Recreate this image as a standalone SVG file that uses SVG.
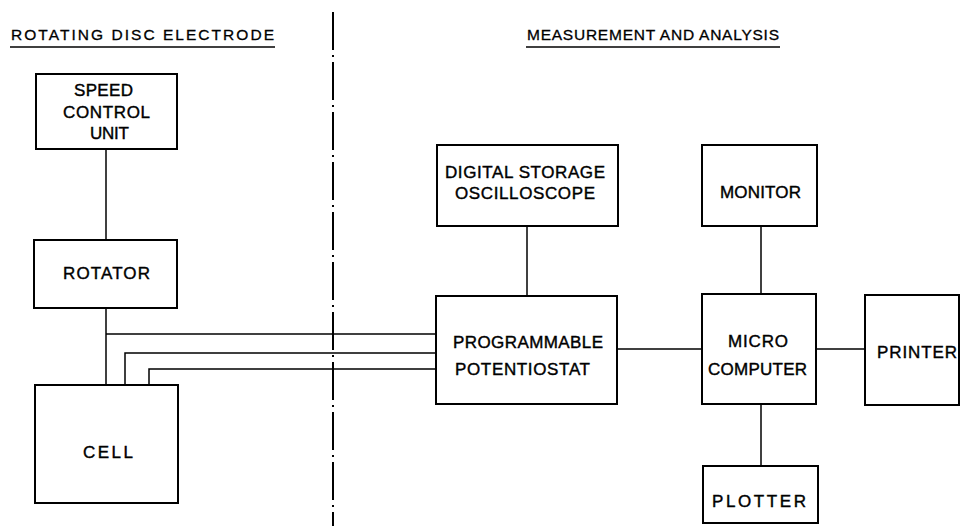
<svg xmlns="http://www.w3.org/2000/svg" width="961" height="526" viewBox="0 0 961 526">
<style>
.box{fill:none;stroke:#000;stroke-width:2}
.ln{fill:none;stroke:#000;stroke-width:1.5}
.t{font-family:"Liberation Sans",Arial,sans-serif;font-size:17px;fill:#000;stroke:#000;stroke-width:0.4;text-anchor:start}
.h{font-family:"Liberation Sans",Arial,sans-serif;font-size:15.5px;fill:#000;stroke:#000;stroke-width:0.3;text-anchor:start}
.div{fill:none;stroke:#000;stroke-width:2;stroke-dasharray:38 5 2 5}
</style>
<rect width="961" height="526" fill="#fff"/>
<g id="titles">
<text class="h" x="11" y="40" textLength="263" lengthAdjust="spacing">ROTATING DISC ELECTRODE</text>
<line class="ln" x1="10" y1="47" x2="275" y2="47"/>
<text class="h" x="527" y="40" textLength="252" lengthAdjust="spacing">MEASUREMENT AND ANALYSIS</text>
<line class="ln" x1="526" y1="47" x2="780" y2="47"/>
</g>
<g id="divider">
<line class="div" x1="333" y1="12" x2="333" y2="526"/>
</g>
<g id="connectors">
<line class="ln" x1="106" y1="149" x2="106" y2="240"/>
<line class="ln" x1="106" y1="308" x2="106" y2="385"/>
<line class="ln" x1="106" y1="334" x2="436" y2="334"/>
<polyline class="ln" points="125,385 125,353 436,353"/>
<polyline class="ln" points="149,385 149,369 436,369"/>
<line class="ln" x1="527" y1="226" x2="527" y2="296"/>
<line class="ln" x1="617" y1="349" x2="702" y2="349"/>
<line class="ln" x1="816" y1="349" x2="865" y2="349"/>
<line class="ln" x1="761" y1="226" x2="761" y2="294"/>
<line class="ln" x1="761" y1="404" x2="761" y2="466"/>
</g>
<g id="speed">
<rect class="box" x="36" y="74" width="141" height="75"/>
<text class="t" x="74" y="96" textLength="59" lengthAdjust="spacing">SPEED</text>
<text class="t" x="63" y="118" textLength="87" lengthAdjust="spacing">CONTROL</text>
<text class="t" x="90" y="139" textLength="39" lengthAdjust="spacing">UNIT</text>
</g>
<g id="rotator">
<rect class="box" x="34" y="240" width="143" height="68"/>
<text class="t" x="63" y="279" textLength="87" lengthAdjust="spacing">ROTATOR</text>
</g>
<g id="cell">
<rect class="box" x="35" y="385" width="143" height="118"/>
<text class="t" x="83" y="458" textLength="50" lengthAdjust="spacing">CELL</text>
</g>
<g id="oscilloscope">
<rect class="box" x="437" y="145" width="181" height="81"/>
<text class="t" x="445" y="178" textLength="160" lengthAdjust="spacing">DIGITAL STORAGE</text>
<text class="t" x="455" y="199" textLength="140" lengthAdjust="spacing">OSCILLOSCOPE</text>
</g>
<g id="potentiostat">
<rect class="box" x="436" y="296" width="181" height="108"/>
<text class="t" x="453" y="348" textLength="150" lengthAdjust="spacing">PROGRAMMABLE</text>
<text class="t" x="455" y="375" textLength="135" lengthAdjust="spacing">POTENTIOSTAT</text>
</g>
<g id="monitor">
<rect class="box" x="702" y="145" width="115" height="81"/>
<text class="t" x="720" y="198" textLength="81" lengthAdjust="spacing">MONITOR</text>
</g>
<g id="microcomputer">
<rect class="box" x="702" y="294" width="114" height="110"/>
<text class="t" x="728" y="347" textLength="60" lengthAdjust="spacing">MICRO</text>
<text class="t" x="708" y="375" textLength="99" lengthAdjust="spacing">COMPUTER</text>
</g>
<g id="printer">
<rect class="box" x="865" y="295" width="94" height="110"/>
<text class="t" x="877" y="358" textLength="80" lengthAdjust="spacing">PRINTER</text>
</g>
<g id="plotter">
<rect class="box" x="703" y="466" width="115" height="57"/>
<text class="t" x="712" y="507" textLength="94" lengthAdjust="spacing">PLOTTER</text>
</g>
</svg>
